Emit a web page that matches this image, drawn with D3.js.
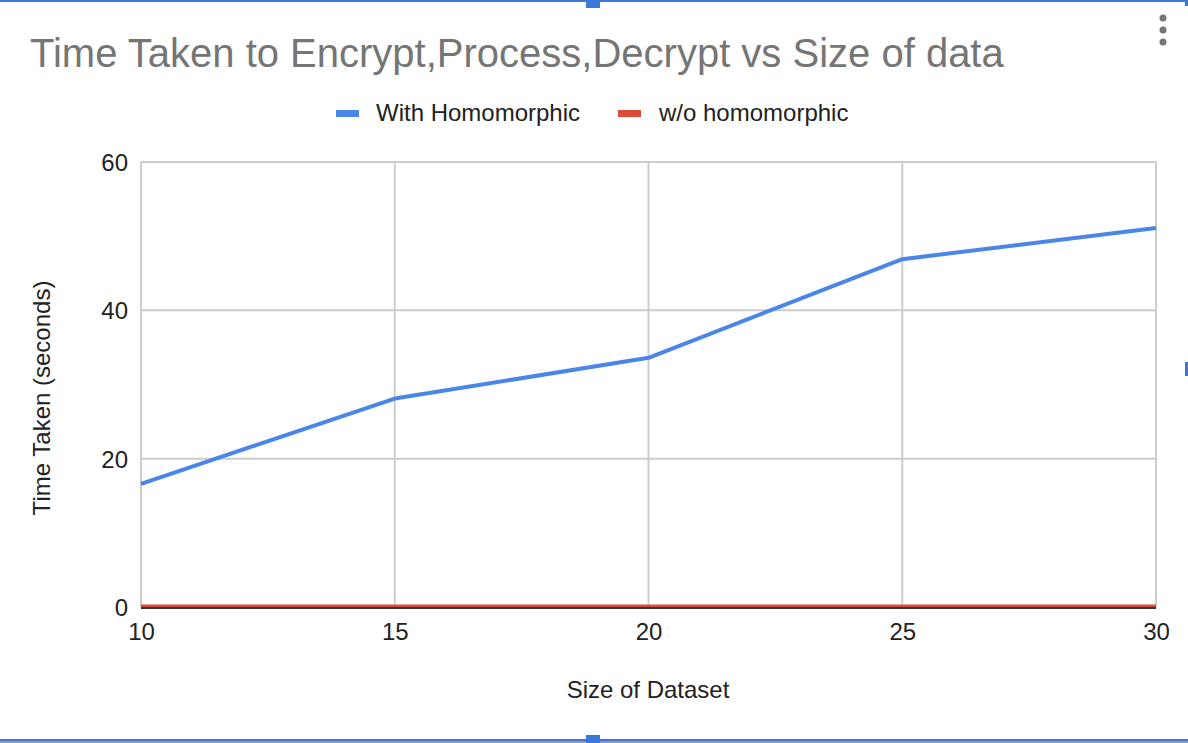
<!DOCTYPE html>
<html><head><meta charset="utf-8">
<script src="https://cdn.jsdelivr.net/npm/d3@7"></script>
<style>body{margin:0;background:#fff;}svg{display:block;font-family:"Liberation Sans",Arial,Helvetica,sans-serif;}</style>
</head><body>
<svg id="c" width="1188" height="743"></svg>
<script>
const sizes = [10, 15, 20, 25, 30];
const withHomo = [16.6, 28.1, 33.6, 46.9, 51.1];
const withoutHomo = [0.08, 0.08, 0.08, 0.08, 0.08];
const yTicks = [0, 20, 40, 60];
const xTicks = [10, 15, 20, 25, 30];
const seriesNames = ["With Homomorphic", "w/o homomorphic"];
const seriesColors = ["#4a86e8", "#dc4a38"];
const FONT = '"Liberation Sans",Arial,Helvetica,sans-serif';

const svg = d3.select("#c");
const m = {l:141, r:1156, t:162, b:607};
const x = d3.scaleLinear().domain([10,30]).range([m.l, m.r]);
const y = d3.scaleLinear().domain([0,60]).range([m.b, m.t]);

// frame decorations
svg.append("rect").attr("x",0).attr("y",0).attr("width",1188).attr("height",2).attr("fill","#3c78d8");
svg.append("rect").attr("x",586).attr("y",0).attr("width",14).attr("height",8).attr("fill","#3c78d8");
svg.append("rect").attr("x",1185).attr("y",0).attr("width",3).attr("height",6).attr("fill","#3c78d8");
svg.append("rect").attr("x",1185).attr("y",362).attr("width",3).attr("height",14).attr("fill","#3c78d8");
svg.append("rect").attr("x",0).attr("y",741).attr("width",1188).attr("height",2).attr("fill","#999");
svg.append("rect").attr("x",0).attr("y",739).attr("width",1188).attr("height",2).attr("fill","#3c78d8");
svg.append("rect").attr("x",586).attr("y",735).attr("width",14).attr("height",8).attr("fill","#3c78d8");
[18,30,42].forEach(cy=>svg.append("circle").attr("cx",1163).attr("cy",cy).attr("r",3.5).attr("fill","#757575"));

// title
svg.append("text").attr("x",30).attr("y",67).attr("font-size",40).attr("fill","#757575")
  .text("Time Taken to Encrypt,Process,Decrypt vs Size of data");

// legend
const leg = [{x:336, tx:376}, {x:618, tx:659}];
leg.forEach((p,i)=>{
  svg.append("rect").attr("x",p.x).attr("y",110).attr("width",23).attr("height",7).attr("fill",seriesColors[i]);
  svg.append("text").attr("x",p.tx).attr("y",121).attr("font-size",24).attr("fill","#222").text(seriesNames[i]);
});

// grid
const g = svg.append("g");
g.selectAll(".hy").data(yTicks).join("line")
  .attr("x1",m.l).attr("x2",m.r).attr("y1",d=>y(d)).attr("y2",d=>y(d))
  .attr("stroke","#ccc").attr("stroke-width",2);
g.selectAll(".vx").data(xTicks).join("line")
  .attr("y1",m.t).attr("y2",m.b).attr("x1",d=>x(d)).attr("x2",d=>x(d))
  .attr("stroke","#ccc").attr("stroke-width",2);

// axes labels via d3 axes
const yAxis = svg.append("g").attr("transform",`translate(${m.l},0)`)
  .call(d3.axisLeft(y).tickValues(yTicks).tickSize(0).tickPadding(13));
yAxis.select(".domain").remove();
yAxis.selectAll("text").attr("font-size",24).attr("fill","#222").attr("font-family",FONT).attr("dy","0.35em");

const xAxis = svg.append("g").attr("transform",`translate(0,${m.b})`)
  .call(d3.axisBottom(x).tickValues(xTicks).tickSize(0).tickPadding(16));
xAxis.select(".domain").remove();
xAxis.selectAll("text").attr("font-size",24).attr("fill","#222").attr("font-family",FONT);

// axis titles
svg.append("text").attr("x",648).attr("y",698).attr("text-anchor","middle").attr("font-size",24).attr("fill","#222").text("Size of Dataset");
svg.append("text").attr("transform","translate(50,398) rotate(-90)").attr("text-anchor","middle").attr("font-size",24).attr("fill","#222").text("Time Taken (seconds)");

// lines
const line = d3.line().x((d,i)=>x(sizes[i])).y(d=>y(d));
[withoutHomo, withHomo].forEach((s,k)=>{
  const i = k===0 ? 1 : 0;
  svg.append("path").datum(s).attr("d",line).attr("fill","none")
    .attr("stroke",seriesColors[i]).attr("stroke-width",4).attr("stroke-linejoin","round");
});

// baseline
svg.append("line").attr("x1",m.l).attr("x2",m.r).attr("y1",608).attr("y2",608).attr("stroke","#333").attr("stroke-width",2);
</script>
</body></html>
